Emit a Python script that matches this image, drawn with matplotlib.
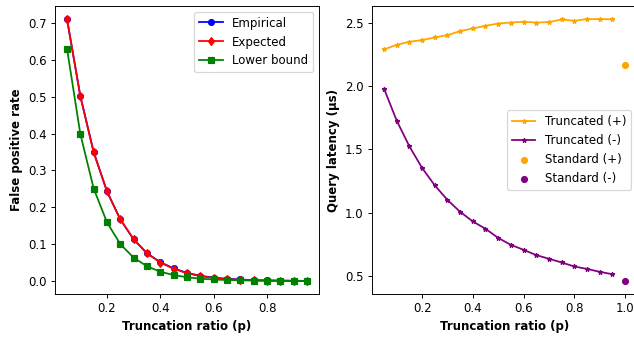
import matplotlib
matplotlib.use("Agg")
import matplotlib.pyplot as plt

## -- truncation ratios
p_vals = [0.05, 0.10, 0.15, 0.20, 0.25, 0.30, 0.35, 0.40, 0.45, 0.50,
          0.55, 0.60, 0.65, 0.70, 0.75, 0.80, 0.85, 0.90, 0.95]

## -- false positive rate
fpr_empirical = [0.711, 0.502, 0.350, 0.243, 0.167, 0.113, 0.075, 0.051, 0.034, 0.022,
                 0.014, 0.009, 0.006, 0.004, 0.002, 0.0015, 0.001, 0.0005, 0.0002]
fpr_expected  = [0.711, 0.502, 0.349, 0.243, 0.167, 0.113, 0.075, 0.050, 0.033, 0.021,
                 0.013, 0.008, 0.005, 0.003, 0.002, 0.001, 0.0005, 0.0002, 0.0001]
fpr_lower     = [0.631, 0.399, 0.251, 0.159, 0.100, 0.063, 0.040, 0.025, 0.016, 0.010,
                 0.006, 0.004, 0.0025, 0.0016, 0.001, 0.0006, 0.0004, 0.0002, 0.0001]

## -- query latency (us)
lat_trunc_pos = [2.289, 2.326, 2.350, 2.363, 2.384, 2.402, 2.434, 2.455, 2.476, 2.494,
                 2.502, 2.508, 2.502, 2.505, 2.526, 2.516, 2.529, 2.529, 2.528]
lat_trunc_neg = [1.979, 1.726, 1.523, 1.353, 1.215, 1.100, 1.006, 0.930, 0.872, 0.800,
                 0.745, 0.706, 0.664, 0.635, 0.606, 0.574, 0.555, 0.532, 0.513]
std_p = [1.0]
lat_std_pos = [2.168]
lat_std_neg = [0.460]

DPI = 85
fig = plt.figure(figsize=(634/DPI, 337/DPI), dpi=DPI)
ax1 = fig.add_axes([55/634, 1-294/337, 264/634, 288/337])
ax2 = fig.add_axes([372/634, 1-294/337, 265/634, 288/337])

## -- left: false positive rate
ax1.plot(p_vals, fpr_empirical, color='b', marker='o', ms=5, label='Empirical')
ax1.plot(p_vals, fpr_expected, color='r', marker='d', ms=5, label='Expected')
ax1.plot(p_vals, fpr_lower, color='g', marker='s', ms=5, label='Lower bound')
ax1.set_xlabel('Truncation ratio (p)', fontweight='bold')
ax1.set_ylabel('False positive rate', fontweight='bold')
ax1.set_xticks([0.2, 0.4, 0.6, 0.8])
ax1.legend(loc='upper right')

## -- right: query latency
ax2.plot(p_vals, lat_trunc_pos, color='orange', marker='*', ms=4, label='Truncated (+)')
ax2.plot(p_vals, lat_trunc_neg, color='purple', marker='*', ms=4, label='Truncated (-)')
ax2.scatter(std_p, lat_std_pos, color='orange', s=25, label='Standard (+)')
ax2.scatter(std_p, lat_std_neg, color='purple', s=25, label='Standard (-)')
ax2.set_xlabel('Truncation ratio (p)', fontweight='bold')
ax2.set_ylabel('Query latency (\u00b5s)', fontweight='bold')
ax2.set_xticks([0.2, 0.4, 0.6, 0.8, 1.0])
ax2.set_yticks([0.5, 1.0, 1.5, 2.0, 2.5])
ax2.legend(loc='center right')

fig.savefig('out.png', dpi=DPI)
